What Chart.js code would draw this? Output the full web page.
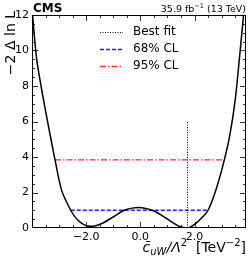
<!DOCTYPE html>
<html>
<head>
<meta charset="utf-8">
<script src="https://cdn.jsdelivr.net/npm/chart.js@4/dist/chart.umd.min.js"></script>
<style>
  html, body { margin: 0; padding: 0; background: #fff; }
  #wrap { width: 249px; height: 260px; }
</style>
</head>
<body>
<div id="wrap"><canvas id="scanChart"></canvas></div>
<script>
// likelihood scan
const scanX = [-4.00, -3.85, -3.70, -3.50, -3.30, -3.15, -3.00, -2.89, -2.75, -2.57, -2.40, -2.20, -2.00, -1.85, -1.65, -1.40, -1.00, -0.60, -0.30, -0.05, 0.20, 0.44, 0.80, 1.10, 1.40, 1.74, 2.00, 2.25, 2.50, 2.80, 3.10, 3.30, 3.50, 3.67, 3.81];
const scanY = [12.4, 9.8, 8.3, 6.6, 5.0, 3.84, 2.7, 2.05, 1.55, 1.0, 0.6, 0.3, 0.13, 0.1, 0.13, 0.27, 0.62, 1.0, 1.12, 1.15, 1.1, 1.0, 0.7, 0.4, 0.12, 0.0, 0.2, 0.55, 1.0, 2.2, 3.84, 5.2, 7.2, 9.75, 12.0];

const bestFitX = 1.74;
const bestFitTop = 6.0;
const cl68Level = 1.0;
const cl68Range = [-2.57, 2.5];
const cl95Level = 3.84;
const cl95Range = [-3.15, 3.1];

const xMajorTicks = [-2, 0, 2];
const yMajorTicks = [0, 2, 4, 6, 8, 10, 12];

const FONT = "'DejaVu Sans', sans-serif";

// frame, inward ticks, legend and titles
const decorPlugin = {
    id: 'decor',
    afterDraw(chart) {
        const ctx = chart.ctx;
        const area = chart.chartArea;
        const xs = chart.scales.x;
        const ys = chart.scales.y;
        ctx.save();

        // frame
        ctx.strokeStyle = '#000';
        ctx.lineWidth = 1;
        ctx.strokeRect(area.left + 0.5, area.top + 0.5, area.right - area.left - 1, area.bottom - area.top - 1);

        // x ticks (major + minor), bottom and top
        ctx.lineWidth = 0.8;
        ctx.beginPath();
        for (let v = -4; v <= 4.001; v += 0.5) {
            const px = Math.round(xs.getPixelForValue(v)) + 0.5;
            if (px <= area.left + 1 || px >= area.right - 1) continue;
            const len = xMajorTicks.includes(Math.round(v * 10) / 10) ? 6 : 3;
            ctx.moveTo(px, area.bottom); ctx.lineTo(px, area.bottom - len);
            ctx.moveTo(px, area.top); ctx.lineTo(px, area.top + len);
        }
        // y ticks, left and right
        for (let v = 0; v <= 12.001; v += 0.5) {
            const py = Math.round(ys.getPixelForValue(v)) + 0.5;
            if (py <= area.top + 1 || py >= area.bottom - 1) continue;
            const len = (v % 2 === 0) ? 6 : 3;
            ctx.moveTo(area.left, py); ctx.lineTo(area.left + len, py);
            ctx.moveTo(area.right, py); ctx.lineTo(area.right - len, py);
        }
        ctx.stroke();

        // legend
        const legendItems = chart.data.datasets.filter(d => d.legendLabel);
        const lx0 = 100, lx1 = 123, tx = 133;
        let ly = 32;
        ctx.font = '12px ' + FONT;
        ctx.textBaseline = 'middle';
        ctx.textAlign = 'left';
        legendItems.forEach(d => {
            ctx.strokeStyle = d.legendColor;
            ctx.lineWidth = d.borderWidth;
            ctx.setLineDash(d.borderDash || []);
            ctx.beginPath();
            ctx.moveTo(lx0, ly + 0.5);
            ctx.lineTo(lx1, ly + 0.5);
            ctx.stroke();
            ctx.setLineDash([]);
            ctx.fillStyle = '#000';
            ctx.fillText(d.legendLabel, tx, ly);
            ly += 17;
        });

        // header
        ctx.textBaseline = 'alphabetic';
        ctx.fillStyle = '#000';
        ctx.font = 'bold 12px ' + FONT;
        ctx.textAlign = 'left';
        ctx.fillText('CMS', area.left + 1, 12);
        // luminosity label, right aligned
        const p1 = '35.9 fb', sup = '−1', p2 = ' (13 TeV)';
        ctx.font = '9.5px ' + FONT;
        const w1 = ctx.measureText(p1).width, w3 = ctx.measureText(p2).width;
        ctx.font = '6.5px ' + FONT;
        const w2 = ctx.measureText(sup).width;
        let x = area.right - (w1 + w2 + w3);
        ctx.font = '9.5px ' + FONT;
        ctx.fillText(p1, x, 12); x += w1;
        ctx.font = '6.5px ' + FONT;
        ctx.fillText(sup, x, 8); x += w2;
        ctx.font = '9.5px ' + FONT;
        ctx.fillText(p2, x, 12);

        // y axis title, rotated, aligned to top
        ctx.save();
        ctx.translate(15, area.top - 4);
        ctx.rotate(-Math.PI / 2);
        ctx.font = '14px ' + FONT;
        ctx.textAlign = 'right';
        ctx.textBaseline = 'alphabetic';
        ctx.fillText('−2 Δ ln L', 0, 0);
        ctx.restore();

        // x axis title, right aligned: c̄_uW/Λ^2  [TeV^-2]
        const base = 252;
        const parts = [
            { t: 'c̄', f: 'italic 14px ' + FONT, dy: 0 },
            { t: 'uW', f: 'italic 10px ' + FONT, dy: 3 },
            { t: '/Λ', f: 'italic 14px ' + FONT, dy: 0 },
            { t: '2', f: '10px ' + FONT, dy: -6 },
            { t: '  [TeV', f: '14px ' + FONT, dy: 0 },
            { t: '−2', f: '10px ' + FONT, dy: -6 },
            { t: ']', f: '14px ' + FONT, dy: 0 }
        ];
        let total = 0;
        parts.forEach(p => { ctx.font = p.f; p.w = ctx.measureText(p.t).width; total += p.w; });
        x = area.right - total;
        ctx.textAlign = 'left';
        parts.forEach(p => { ctx.font = p.f; ctx.fillText(p.t, x, base + p.dy); x += p.w; });

        ctx.restore();
    }
};

const ctx = document.getElementById('scanChart');

new Chart(ctx, {
    type: 'line',
    data: {
        datasets: [
            {
                data: scanX.map((x, i) => ({ x: x, y: scanY[i] })),
                borderColor: '#000',
                borderWidth: 1.5,
                pointRadius: 0,
                cubicInterpolationMode: 'monotone',
                fill: false
            },
            {
                legendLabel: 'Best fit',
                legendColor: '#000',
                data: [{ x: bestFitX, y: 0 }, { x: bestFitX, y: bestFitTop }],
                borderColor: '#000',
                borderWidth: 1,
                borderDash: [1, 1.5],
                pointRadius: 0
            },
            {
                legendLabel: '68% CL',
                legendColor: '#1f1fff',
                data: [{ x: cl68Range[0], y: cl68Level }, { x: cl68Range[1], y: cl68Level }],
                borderColor: '#1f1fff',
                borderWidth: 1.3,
                borderDash: [4, 2],
                pointRadius: 0
            },
            {
                legendLabel: '95% CL',
                legendColor: '#ff2a2a',
                data: [{ x: cl95Range[0], y: cl95Level }, { x: cl95Range[1], y: cl95Level }],
                borderColor: '#ff2a2a',
                borderWidth: 1.3,
                borderDash: [6, 2, 1.5, 2],
                pointRadius: 0
            }
        ]
    },
    options: {
        responsive: true,
        maintainAspectRatio: false,
        animation: false,
        layout: { padding: { top: 15, right: 3, left: 0, bottom: 0 } },
        plugins: {
            legend: { display: false },
            tooltip: { enabled: false }
        },
        scales: {
            x: {
                type: 'linear',
                min: -4.0,
                max: 3.9,
                afterBuildTicks: scale => { scale.ticks = xMajorTicks.map(v => ({ value: v })); },
                afterFit: scale => { scale.height = 32; },
                grid: { display: false, drawTicks: false },
                border: { display: false },
                ticks: {
                    padding: 3,
                    color: '#000',
                    font: { family: FONT, size: 11 },
                    maxRotation: 0,
                    callback: v => (v < 0 ? '−' : '') + Math.abs(v).toFixed(1)
                }
            },
            y: {
                min: 0,
                max: 12,
                afterBuildTicks: scale => { scale.ticks = yMajorTicks.map(v => ({ value: v })); },
                afterFit: scale => { scale.width = 32; },
                grid: { display: false, drawTicks: false },
                border: { display: false },
                ticks: {
                    padding: 3,
                    color: '#000',
                    font: { family: FONT, size: 11 }
                }
            }
        }
    },
    plugins: [decorPlugin]
});
</script>
</body>
</html>
